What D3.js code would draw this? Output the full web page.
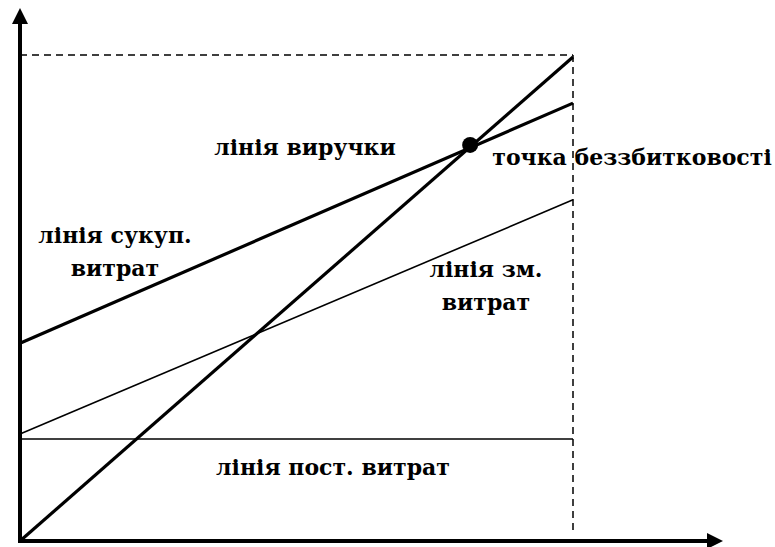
<!DOCTYPE html>
<html>
<head>
<meta charset="utf-8">
<script src="https://cdn.jsdelivr.net/npm/d3@7"></script>
<style>
  body { margin: 0; background: #fff; }
</style>
</head>
<body>
<div class="grafico"></div>
<script>
var width = 775,
  height = 547;

// lines: [start value, end value] over quantity 0..100
const revenue = [0, 99.6];
const totalCosts = [40.7, 90.1];
const varCosts = [22, 70.2];
const fixedCosts = [21, 21];
const breakEven = { q: 81.4, v: 81.5 };
const qRange = [0, 100];

// labels
const labels = [
  { lines: ["лінія виручки"], x: 305, y: 155 },
  { lines: ["лінія сукуп.", "витрат"], x: 115, y: 243 },
  { lines: ["лінія зм.", "витрат"], x: 486, y: 277 },
  { lines: ["лінія пост. витрат"], x: 333, y: 475 },
  { lines: ["точка беззбитковості"], x: 632, y: 165 }
];

let svg = d3.select(".grafico")
  .append("svg")
  .attr("width", width)
  .attr("height", height);

const x = d3.scaleLinear().domain(qRange).range([20, 573]);
const y = d3.scaleLinear().domain([0, 100]).range([541, 55]);

// dashed frame
svg.append("line")
  .attr("x1", x(0)).attr("y1", y(100))
  .attr("x2", x(100)).attr("y2", y(100))
  .attr("stroke", "#000").attr("stroke-width", 1.5)
  .attr("stroke-dasharray", "7,5");
svg.append("line")
  .attr("x1", x(100)).attr("y1", y(100))
  .attr("x2", x(100)).attr("y2", y(0) - 6)
  .attr("stroke", "#000").attr("stroke-width", 1.5)
  .attr("stroke-dasharray", "7,5");

// cost/revenue lines
const series = [
  { d: fixedCosts, w: 1.6 },
  { d: varCosts, w: 1.6 },
  { d: totalCosts, w: 3.2 },
  { d: revenue, w: 3.2 }
];
svg.selectAll("line.serie")
  .data(series)
  .enter().append("line")
  .attr("class", "serie")
  .attr("x1", x(qRange[0]))
  .attr("y1", d => y(d.d[0]))
  .attr("x2", x(qRange[1]))
  .attr("y2", d => y(d.d[1]))
  .attr("stroke", "#000")
  .attr("stroke-width", d => d.w);

// axes with arrows
svg.append("line")
  .attr("x1", x(0)).attr("y1", y(0) + 2)
  .attr("x2", x(0)).attr("y2", 22)
  .attr("stroke", "#000").attr("stroke-width", 4);
svg.append("path")
  .attr("d", "M" + (x(0) - 8) + ",24 L" + x(0) + ",8 L" + (x(0) + 8) + ",24 Z")
  .attr("fill", "#000");
svg.append("line")
  .attr("x1", x(0) - 2).attr("y1", y(0))
  .attr("x2", 709).attr("y2", y(0))
  .attr("stroke", "#000").attr("stroke-width", 4);
svg.append("path")
  .attr("d", "M707," + (y(0) - 8) + " L723," + y(0) + " L707," + (y(0) + 8) + " Z")
  .attr("fill", "#000");

// break-even point
svg.append("circle")
  .attr("cx", x(breakEven.q))
  .attr("cy", y(breakEven.v))
  .attr("r", 8)
  .attr("fill", "#000");

// labels
labels.forEach(l => {
  let t = svg.append("text")
    .attr("text-anchor", "middle")
    .attr("font-family", "'DejaVu Serif', serif")
    .attr("font-weight", "bold")
    .attr("font-size", 22);
  l.lines.forEach((s, i) => {
    t.append("tspan")
      .attr("x", l.x)
      .attr("y", l.y + i * 33)
      .text(s);
  });
});
</script>
</body>
</html>
